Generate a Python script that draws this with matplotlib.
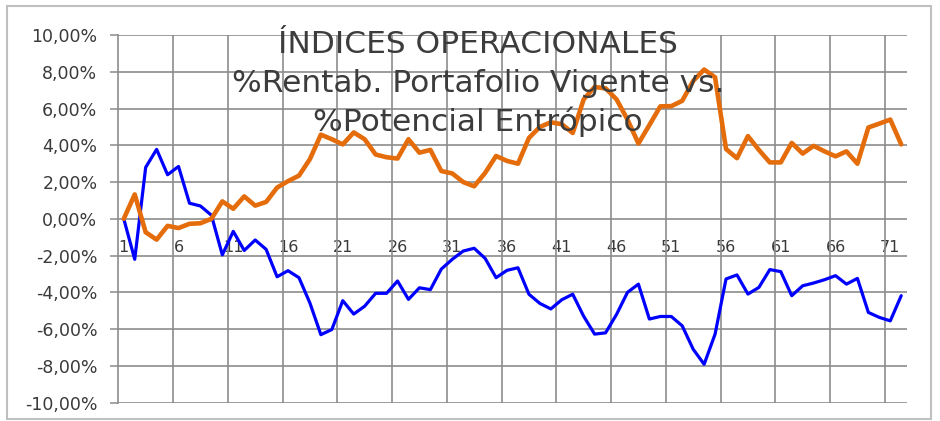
import matplotlib
matplotlib.use('Agg')
import matplotlib.pyplot as plt
from matplotlib.patches import Rectangle
from matplotlib.ticker import FuncFormatter, FixedLocator

# ---- data (values in %) ----
periods = list(range(1, 73))
rentab_vigente = [
    0.0, -2.2, 2.8, 3.78, 2.4, 2.85, 0.85, 0.7, 0.2, -1.96,
    -0.68, -1.72, -1.15, -1.66, -3.15, -2.82, -3.2, -4.58, -6.3, -6.02,
    -4.45, -5.18, -4.75, -4.05, -4.05, -3.38, -4.38, -3.75, -3.85, -2.73,
    -2.2, -1.75, -1.6, -2.15, -3.2, -2.8, -2.66, -4.1, -4.6, -4.9,
    -4.4, -4.1, -5.3, -6.27, -6.2, -5.2, -4.0, -3.55, -5.45, -5.31,
    -5.31, -5.82, -7.09, -7.91, -6.27, -3.27, -3.05, -4.09, -3.73, -2.76,
    -2.87, -4.18, -3.64, -3.49, -3.31, -3.09, -3.55, -3.24, -5.09, -5.36,
    -5.55, -4.18,
]
potencial_entropico = [
    0.0, 1.33, -0.73, -1.13, -0.38, -0.5, -0.27, -0.24, 0.0, 0.95,
    0.55, 1.22, 0.72, 0.92, 1.7, 2.05, 2.35, 3.25, 4.58, 4.33,
    4.05, 4.7, 4.33, 3.5, 3.35, 3.28, 4.33, 3.6, 3.75, 2.6,
    2.47, 2.0, 1.77, 2.5, 3.42, 3.15, 3.0, 4.4, 5.0, 5.25,
    5.15, 4.67, 6.5, 7.17, 7.1, 6.5, 5.4, 4.1, 5.1, 6.12,
    6.13, 6.42, 7.5, 8.12, 7.7, 3.8, 3.3, 4.5, 3.75, 3.07,
    3.07, 4.13, 3.55, 3.97, 3.67, 3.4, 3.67, 3.0, 4.97, 5.18,
    5.4, 4.05,
]
x_tick_values = list(range(1, 73, 5))
x_tick_labels = [str(v) for v in x_tick_values]
y_ticks = list(range(-10, 11, 2))
title_lines = ["ÍNDICES OPERACIONALES",
               "%Rentab. Portafolio Vigente vs.",
               "%Potencial Entrópico"]

W, H = 940, 421
fig = plt.figure(figsize=(W / 100, H / 100), dpi=100)
fig.patch.set_facecolor('white')

# outer border
fig.patches.append(Rectangle((7 / W, 1 - 419 / H), (931 - 7) / W, (419 - 6) / H,
                             transform=fig.transFigure, fill=False,
                             edgecolor='#c0c0c0', lw=1.5))

left, right, top, bottom = 118.3, 906.7, 35.0, 402.7
ax = fig.add_axes([left / W, 1 - bottom / H, (right - left) / W, (bottom - top) / H])

grid_c = '#8c8c8c'
ax.plot(periods, rentab_vigente, color='#0000FF', lw=2.3, zorder=3,
        solid_joinstyle='round', solid_capstyle='round')
ax.plot(periods, potencial_entropico, color='#E46C0A', lw=3.3, zorder=3,
        solid_joinstyle='round', solid_capstyle='round')

ax.set_xlim(0.5, 72.5)
ax.set_ylim(-10, 10)

# y axis
ax.set_yticks(y_ticks)
ax.yaxis.set_major_formatter(FuncFormatter(lambda v, p: f"{v:.2f}%".replace('.', ',')))
ax.tick_params(axis='y', direction='out', length=6, width=1.1, color=grid_c,
               labelsize=12.5, labelcolor='#3a3a3a', pad=9)
for lab in ax.get_yticklabels():
    lab.set_family('DejaVu Sans')
ax.grid(axis='y', which='major', color=grid_c, lw=1.2, zorder=1)

# x axis: labels at the 0 line, gridlines at slot boundaries
ax.set_xticks(x_tick_values)
ax.set_xticklabels(x_tick_labels)
ax.xaxis.set_minor_locator(FixedLocator([v + 4.5 for v in x_tick_values[:-1]]))
ax.tick_params(axis='x', which='both', length=0, labelsize=11.5,
               labelcolor='#3a3a3a', pad=15)
ax.grid(axis='x', which='minor', color=grid_c, lw=1.2, zorder=1)
ax.spines['bottom'].set_position(('data', 0))
ax.spines['bottom'].set_visible(False)
ax.spines['top'].set_visible(False)
ax.spines['right'].set_visible(False)
ax.spines['left'].set_color(grid_c)
ax.spines['left'].set_linewidth(1.2)
ax.set_axisbelow(True)

# title
baselines = [53, 92, 131]
for txt, b in zip(title_lines, baselines):
    fig.text(478 / W, 1 - b / H, txt, ha='center', va='baseline',
             fontsize=22.5, color='#3c3c3c', family='DejaVu Sans', zorder=5)

fig.savefig('out.png', dpi=100)
